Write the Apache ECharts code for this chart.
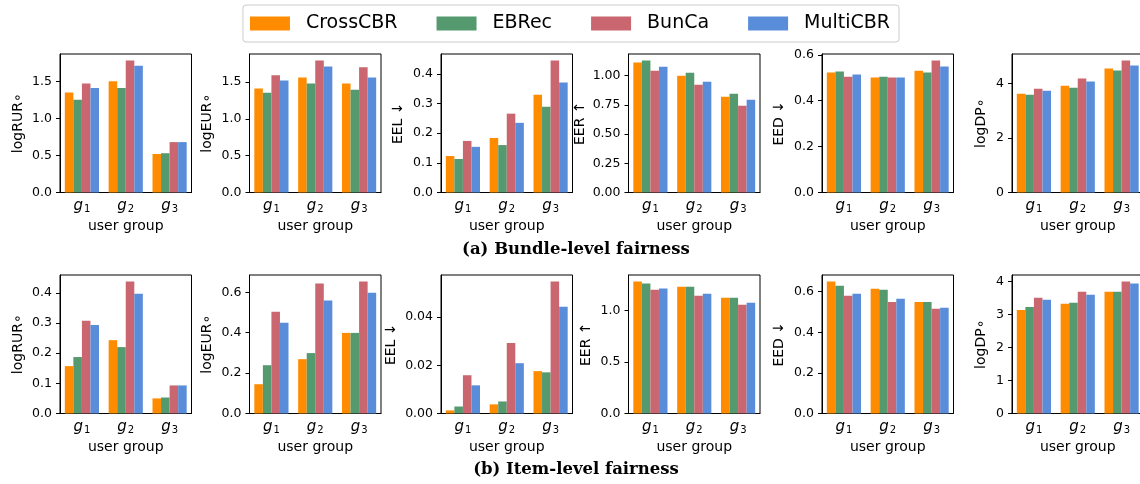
<!DOCTYPE html>
<html>
<head>
<meta charset="utf-8">
<script src="https://cdn.jsdelivr.net/npm/echarts@6/dist/echarts.min.js"></script>
<style>
  html, body { margin: 0; padding: 0; background: #fff; }
  #chart { width: 1140px; height: 484px; }
</style>
</head>
<body>
<div id="chart"></div>
<script>
var groups = ['g1', 'g2', 'g3']
var methods = ['CrossCBR', 'EBRec', 'BunCa', 'MultiCBR']
var colors = ['#FF8C00', '#55996F', '#C9666F', '#5A8DD9']

// (a) bundle-level, one row per method, values for g1..g3
var bundleLogRUR = [
  [1.35, 1.50, 0.52],
  [1.25, 1.41, 0.53],
  [1.47, 1.78, 0.68],
  [1.41, 1.71, 0.68]
]
var bundleLogEUR = [
  [1.41, 1.56, 1.48],
  [1.355, 1.48, 1.395],
  [1.59, 1.79, 1.70],
  [1.52, 1.71, 1.56]
]
var bundleEEL = [
  [0.123, 0.184, 0.330],
  [0.113, 0.160, 0.289],
  [0.174, 0.266, 0.445],
  [0.154, 0.235, 0.371]
]
var bundleEER = [
  [1.112, 1.000, 0.819],
  [1.129, 1.026, 0.845],
  [1.043, 0.923, 0.742],
  [1.077, 0.948, 0.794]
]
var bundleEED = [
  [0.523, 0.501, 0.531],
  [0.527, 0.505, 0.523],
  [0.505, 0.501, 0.575],
  [0.514, 0.501, 0.549]
]
var bundleLogDP = [
  [3.62, 3.91, 4.54],
  [3.58, 3.84, 4.47],
  [3.80, 4.17, 4.83],
  [3.73, 4.06, 4.65]
]

// (b) item-level
var itemLogRUR = [
  [0.157, 0.243, 0.050],
  [0.187, 0.220, 0.053],
  [0.307, 0.437, 0.093],
  [0.293, 0.397, 0.093]
]
var itemLogEUR = [
  [0.145, 0.269, 0.399],
  [0.239, 0.299, 0.399],
  [0.504, 0.643, 0.653],
  [0.449, 0.559, 0.598]
]
var itemEEL = [
  [0.0013, 0.0038, 0.0176],
  [0.0029, 0.0050, 0.0171],
  [0.0159, 0.0293, 0.0548],
  [0.0117, 0.0209, 0.0443]
]
var itemEER = [
  [1.280, 1.231, 1.124],
  [1.261, 1.231, 1.124],
  [1.202, 1.143, 1.055],
  [1.212, 1.163, 1.075]
]
var itemEED = [
  [0.650, 0.615, 0.550],
  [0.630, 0.610, 0.550],
  [0.580, 0.550, 0.516],
  [0.590, 0.565, 0.521]
]
var itemLogDP = [
  [3.14, 3.33, 3.69],
  [3.23, 3.36, 3.69],
  [3.51, 3.69, 4.00],
  [3.45, 3.60, 3.94]
]

// y tick labels
var ticksRURa = [0, 0.5, 1.0, 1.5]
var ticksEURa = [0, 0.5, 1.0, 1.5]
var ticksEELa = [0, 0.1, 0.2, 0.3, 0.4]
var ticksEERa = [0, 0.25, 0.5, 0.75, 1.0]
var ticksEEDa = [0, 0.2, 0.4, 0.6]
var ticksDPa = [0, 2, 4]
var ticksRURb = [0, 0.1, 0.2, 0.3, 0.4]
var ticksEURb = [0, 0.2, 0.4, 0.6]
var ticksEELb = [0, 0.02, 0.04]
var ticksEERb = [0, 0.5, 1.0]
var ticksEEDb = [0, 0.2, 0.4, 0.6]
var ticksDPb = [0, 1, 2, 3, 4]

var panels = [
  { data: bundleLogRUR, ticks: ticksRURa, dec: 1, name: 'logRUR∘', gap: 35 },
  { data: bundleLogEUR, ticks: ticksEURa, dec: 1, name: 'logEUR∘', gap: 35 },
  { data: bundleEEL, ticks: ticksEELa, dec: 1, name: 'EEL ↓', gap: 36 },
  { data: bundleEER, ticks: ticksEERa, dec: 2, name: 'EER ↑', gap: 41 },
  { data: bundleEED, ticks: ticksEEDa, dec: 1, name: 'EED ↓', gap: 36 },
  { data: bundleLogDP, ticks: ticksDPa, dec: 0, name: 'logDP∘', gap: 24 },
  { data: itemLogRUR, ticks: ticksRURb, dec: 1, name: 'logRUR∘', gap: 35 },
  { data: itemLogEUR, ticks: ticksEURb, dec: 1, name: 'logEUR∘', gap: 35 },
  { data: itemEEL, ticks: ticksEELb, dec: 2, name: 'EEL ↓', gap: 43 },
  { data: itemEER, ticks: ticksEERb, dec: 1, name: 'EER ↑', gap: 35 },
  { data: itemEED, ticks: ticksEEDb, dec: 1, name: 'EED ↓', gap: 36 },
  { data: itemLogDP, ticks: ticksDPb, dec: 0, name: 'logDP∘', gap: 24 }
]

var lefts = [60, 249.5, 441, 628.5, 822, 1012]
var tops = [54, 275]
var font = 'DejaVu Sans'

var grid = [], xAxis = [], yAxis = [], series = []
panels.forEach(function(p, i) {
  var col = i % 6
  var row = Math.floor(i / 6)
  var all = [].concat.apply([], p.data)
  var top = Math.max.apply(null, all) * 1.05
  grid.push({
    left: lefts[col], top: tops[row], width: 131.5, height: 138.5,
    show: true, borderColor: '#000', borderWidth: 1,
    containLabel: false, outerBoundsMode: 'none'
  })
  xAxis.push({
    type: 'category', gridIndex: i, data: groups,
    name: 'user group', nameLocation: 'middle', nameGap: 27,
    nameTextStyle: { fontFamily: font, fontSize: 14, color: '#000' },
    axisLine: { lineStyle: { color: '#000', width: 1 } },
    axisTick: { alignWithLabel: true, length: 4, lineStyle: { color: '#000' } },
    axisLabel: {
      interval: 0, margin: 5, color: '#000',
      formatter: function(v) { return '{g|' + v.charAt(0) + '}{s|' + v.slice(1) + '}' },
      rich: {
        g: { fontFamily: font, fontStyle: 'italic', fontSize: 15, color: '#000' },
        s: { fontFamily: font, fontSize: 10, color: '#000', padding: [7, 0, 0, 1] }
      }
    },
    splitLine: { show: false }
  })
  yAxis.push({
    type: 'value', gridIndex: i, min: 0, max: top,
    name: p.name, nameLocation: 'middle', nameRotate: 90, nameGap: p.gap,
    nameTextStyle: { fontFamily: font, fontSize: 14, color: '#000' },
    axisLine: { show: true, lineStyle: { color: '#000', width: 1 } },
    axisTick: { show: true, length: 4, lineStyle: { color: '#000' }, customValues: p.ticks },
    axisLabel: {
      fontFamily: font, fontSize: 12.5, color: '#000', margin: 8,
      customValues: p.ticks,
      formatter: function(v) { return Number(v).toFixed(p.dec) }
    },
    splitLine: { show: false }
  })
  methods.forEach(function(m, k) {
    series.push({
      type: 'bar', name: m, xAxisIndex: i, yAxisIndex: i,
      data: p.data[k],
      itemStyle: { color: colors[k] },
      barGap: '0%', barCategoryGap: '22%'
    })
  })
})

var chart = echarts.init(document.getElementById('chart'), null, { renderer: 'canvas' })
chart.setOption({
  animation: false,
  backgroundColor: '#fff',
  legend: {
    data: methods, top: 5, left: 'center',
    icon: 'rect', itemWidth: 40, itemHeight: 14, itemGap: 39,
    selectedMode: false,
    padding: [9, 9, 9, 7],
    borderColor: '#ccc', borderWidth: 1, borderRadius: 3,
    textStyle: { fontFamily: font, fontSize: 19, color: '#000', padding: [0, 0, 0, 11] }
  },
  graphic: [
    { type: 'text', x: 576, y: 250, style: { text: '(a) Bundle-level fairness', font: 'bold 16.5px "DejaVu Serif"', fill: '#000', textAlign: 'center', textVerticalAlign: 'middle' } },
    { type: 'text', x: 576, y: 470, style: { text: '(b) Item-level fairness', font: 'bold 16.5px "DejaVu Serif"', fill: '#000', textAlign: 'center', textVerticalAlign: 'middle' } }
  ],
  grid: grid,
  xAxis: xAxis,
  yAxis: yAxis,
  series: series
})
</script>
</body>
</html>
